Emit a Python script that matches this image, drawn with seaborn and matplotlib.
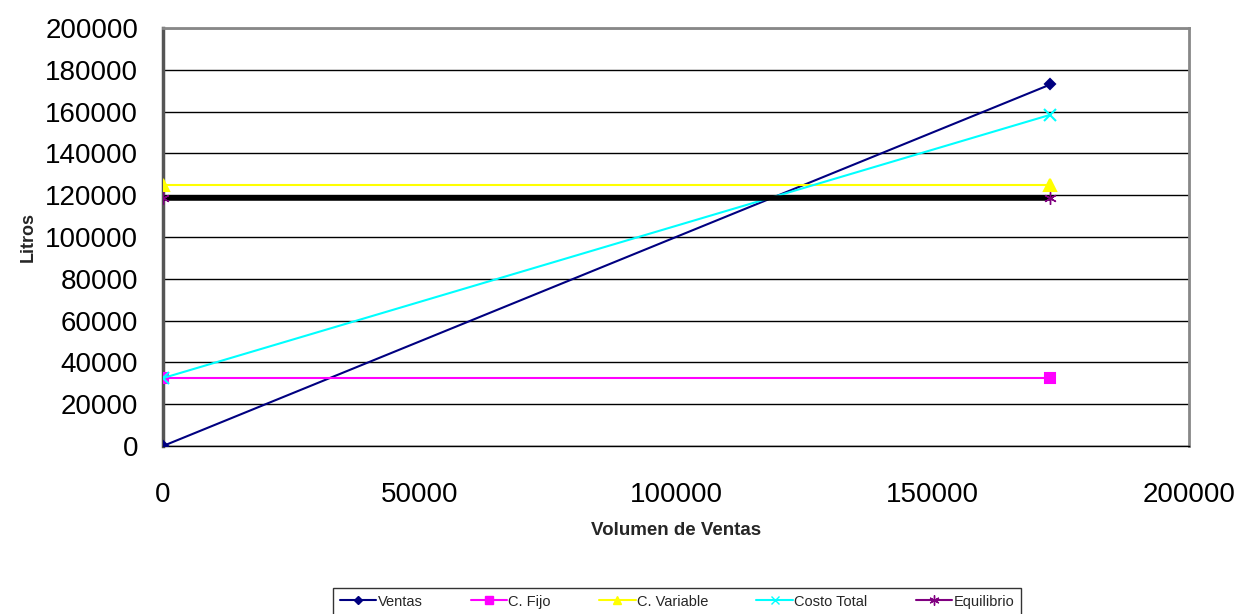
import matplotlib
matplotlib.use("Agg")
import matplotlib.pyplot as plt
from matplotlib.lines import Line2D
import seaborn as sns
import pandas as pd

sns.set_theme(style="white")
plt.rcParams['font.family'] = ['Liberation Sans', 'DejaVu Sans']

volumen = [0, 173000]
ventas = [0, 173000]
c_fijo = [32500, 32500]
c_variable = [125000, 125000]
costo_total = [32500, 158500]
equilibrio = [118500, 118500]

series = ["Ventas", "C. Fijo", "C. Variable", "Costo Total", "Equilibrio"]
values = [ventas, c_fijo, c_variable, costo_total, equilibrio]
colors = ["#000080", "#FF00FF", "#FFFF00", "#00FFFF", "#800080"]
markers = ["D", "s", "^", "x", (6, 2, 0)]
msizes = [5, 7, 8, 8, 9]

df = pd.DataFrame({
    "Volumen": volumen * len(series),
    "Litros": sum(values, []),
    "Serie": [s for s in series for _ in volumen],
})

fig = plt.figure(figsize=(12.39, 6.14), dpi=100)
ax = fig.add_axes([163 / 1239, 1 - 446 / 614, (1189 - 163) / 1239, (446 - 28) / 614])

for s, c, m, ms in zip(series, colors, markers, msizes):
    sub = df[df["Serie"] == s]
    if s == "Equilibrio":
        # break-even level drawn as a heavy black line
        sns.lineplot(data=sub, x="Volumen", y="Litros", ax=ax, color="black",
                     linewidth=4, zorder=3)
        sns.lineplot(data=sub, x="Volumen", y="Litros", ax=ax, color=c,
                     linewidth=0, marker=m, markersize=ms, markeredgecolor=c,
                     markerfacecolor=c, markeredgewidth=1, zorder=4)
    else:
        sns.lineplot(data=sub, x="Volumen", y="Litros", ax=ax, color=c,
                     linewidth=1.5, marker=m, markersize=ms, markeredgecolor=c,
                     markerfacecolor=c, markeredgewidth=1.5, zorder=3)

ax.set_xlim(0, 200000)
ax.set_ylim(0, 200000)
ax.set_xticks(range(0, 200001, 50000))
ax.set_yticks(range(0, 200001, 20000))
ax.yaxis.grid(True, color="black", linewidth=1)
ax.xaxis.grid(False)
ax.set_axisbelow(True)

ax.tick_params(axis="both", labelsize=20, colors="black", direction="out")
ax.tick_params(axis="y", length=6, width=1, pad=12, color="black")
ax.tick_params(axis="x", length=6, width=1, pad=20, color="#444444")

for side in ("top", "right"):
    ax.spines[side].set_color("#888888")
    ax.spines[side].set_linewidth(2)
ax.spines["left"].set_color("#555555")
ax.spines["left"].set_linewidth(2.5)
ax.spines["bottom"].set_color("black")
ax.spines["bottom"].set_linewidth(1)

ax.set_xlabel("Volumen de Ventas", fontsize=13.5, fontweight="bold", labelpad=10)
ax.set_ylabel("Litros", fontsize=13, fontweight="bold", labelpad=6)

handles = [Line2D([0], [0], color=c, marker=m, markersize=ms * 0.8,
                  markerfacecolor=c, markeredgecolor=c, linewidth=1.5)
           for c, m, ms in zip(colors, markers, msizes)]
leg = fig.legend(handles, series, loc="upper center",
                 bbox_to_anchor=(677 / 1239, 1 - 588 / 614), ncol=5,
                 fontsize=10.5, frameon=True, fancybox=False, handlelength=2.5,
                 handletextpad=0.1, columnspacing=3.3, borderpad=0.45,
                 borderaxespad=0)
leg.get_frame().set_edgecolor("black")
leg.get_frame().set_linewidth(1)

fig.savefig("out.png", dpi=100)
